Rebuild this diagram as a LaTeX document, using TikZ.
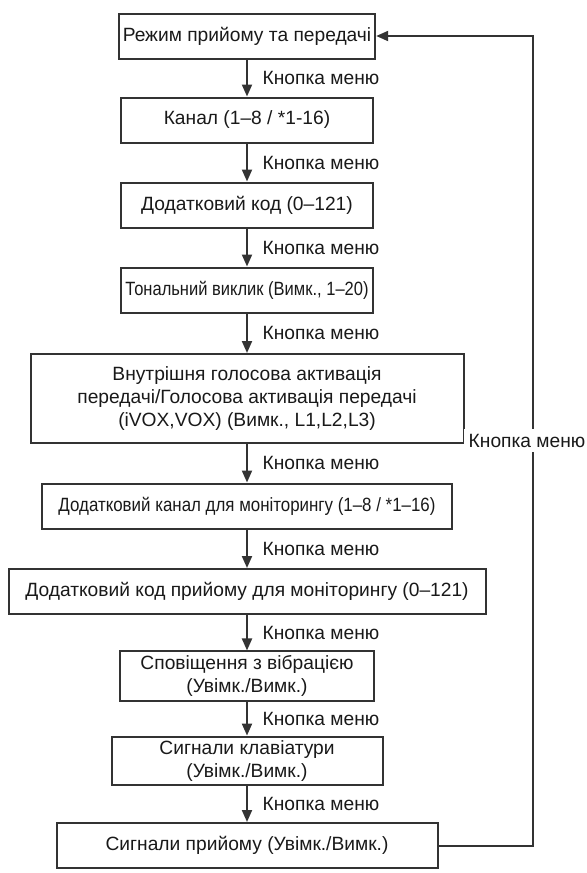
\documentclass[tikz,border=0pt]{standalone}
\usepackage{fontspec}
\setmainfont{Liberation Sans}
\usetikzlibrary{arrows.meta, positioning}
\tikzset{
  menubox/.style={
    rectangle, draw=black!80, line width=1pt,
    minimum width=#1, minimum height=22.5pt,
    inner sep=2pt, align=center, text=black!90
  },
  narrow/.style={font=\fontsize{9.6}{11.5}\selectfont\addfontfeatures{FakeStretch=#1}},
  menulbl/.style={right, xshift=4pt, text=black!90},
}

\begin{document}
\begin{tikzpicture}[x=0.5pt, y=-0.5pt,
      every node/.style={font=\fontsize{9.6}{11.5}\selectfont},
      arr/.style={-{Triangle[length=6pt, width=5pt]}, line width=1pt, draw=black!80}
    ]
    \useasboundingbox (0,0) rectangle (587,873);

    \node[menubox=126pt]   (mode)  at (247, 36)   {Режим прийому та передачі};
    \node[menubox=126pt]   (chan)  at (247, 120)  {Канал (1–8 / *1-16)};
    \node[menubox=126pt]   (code)  at (247, 205)  {Додатковий код (0–121)};
    \node[menubox=126pt, narrow=0.86] (tone) at (247, 290) {Тональний виклик (Вимк., 1–20)};
    \node[menubox=216.5pt, minimum height=44.5pt] (vox) at (247, 398.5)
         {Внутрішня голосова активація\\
          передачі/Голосова активація передачі\\
          (iVOX,VOX) (Вимк., L1,L2,L3)};
    \node[menubox=205pt, narrow=0.88] (mchan) at (247, 506) {Додатковий канал для моніторингу (1–8 / *1–16)};
    \node[menubox=238.5pt] (mcode) at (247, 591.5){Додатковий код прийому для моніторингу (0–121)};
    \node[menubox=127pt]   (vib)   at (247, 676)  {Сповіщення з вібрацією\\(Увімк./Вимк.)};
    \node[menubox=135.5pt] (keys)  at (247, 761)  {Сигнали клавіатури\\(Увімк./Вимк.)};
    \node[menubox=190.5pt] (rxsig) at (247, 845.5){Сигнали прийому (Увімк./Вимк.)};

    \foreach \a/\b in {mode/chan, chan/code, code/tone, tone/vox, vox/mchan,
                       mchan/mcode, mcode/vib, vib/keys, keys/rxsig}
      \draw[arr] (\a.south) -- node[menulbl] {Кнопка меню} (\b.north);

    % return path
    \coordinate (back) at (533, 0);
    \draw[arr] (rxsig.east) -- (rxsig.east -| back)
      -- node[fill=white, inner sep=2.5pt, xshift=-3pt, text=black!90] {Кнопка меню} (back |- mode.east)
      -- (mode.east);

  \end{tikzpicture}
\end{document}
